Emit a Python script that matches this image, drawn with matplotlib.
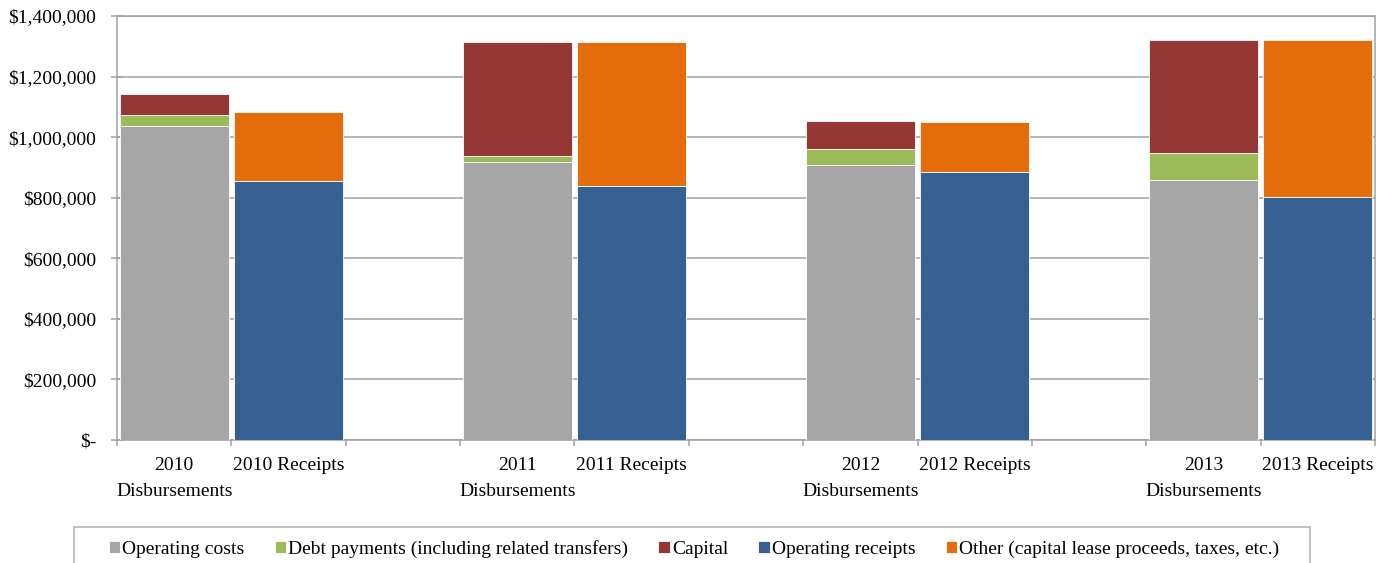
import matplotlib
matplotlib.use('Agg')
import matplotlib.pyplot as plt
from matplotlib.patches import Rectangle
from matplotlib.ticker import FuncFormatter
import numpy as np

# data (USD)
years = ['2010', '2011', '2012', '2013']
operating_costs = [1036000, 917000, 908000, 860000]
debt_payments = [36000, 21000, 52000, 88000]
capital = [72000, 376000, 93000, 372000]
operating_receipts = [856000, 840000, 885000, 803000]
other = [227000, 474000, 166000, 517000]

series_names = ['Operating costs', 'Debt payments (including related transfers)', 'Capital',
                'Operating receipts', 'Other (capital lease proceeds, taxes, etc.)']
colors = ['#a6a6a6', '#9bbb59', '#953735', '#376092', '#e46c0a']

plt.rcParams.update({
    'font.family': ['Liberation Serif', 'DejaVu Serif'],
    'font.size': 14,
})

fig = plt.figure(figsize=(13.9, 5.63), dpi=100)
ax = fig.add_axes([117 / 1390, 123 / 563, 1258 / 1390, 424 / 563])

# each year: disbursement slot, receipt slot, empty slot
x_disb = np.arange(len(years)) * 3
x_rec = x_disb + 1
w = 0.95
edge = dict(edgecolor='white', linewidth=0.6, zorder=3)

ax.bar(x_disb, operating_costs, w, color=colors[0], label=series_names[0], **edge)
ax.bar(x_disb, debt_payments, w, bottom=operating_costs, color=colors[1], label=series_names[1], **edge)
bottom_cap = np.array(operating_costs) + np.array(debt_payments)
ax.bar(x_disb, capital, w, bottom=bottom_cap, color=colors[2], label=series_names[2], **edge)
ax.bar(x_rec, operating_receipts, w, color=colors[3], label=series_names[3], **edge)
ax.bar(x_rec, other, w, bottom=operating_receipts, color=colors[4], label=series_names[4], **edge)

ax.set_xlim(-0.5, 10.5)
ax.set_ylim(0, 1400000)
ax.set_yticks(np.arange(0, 1400001, 200000))
ax.yaxis.set_major_formatter(FuncFormatter(lambda v, p: '$-' if v == 0 else '${:,.0f}'.format(v)))
ax.grid(True, axis='y', color='#a0a0a0', linewidth=1.1, zorder=0)
ax.set_axisbelow(True)

grey = '#a0a0a0'
for s in ax.spines.values():
    s.set_color(grey)
    s.set_linewidth(1.1)

# category boundaries as tick marks, labels in the middle of slots
ax.set_xticks(np.arange(-0.5, 11, 1))
ax.set_xticklabels([])
ax.tick_params(axis='x', which='major', direction='out', length=4, width=1.1, color=grey)
labels = []
for y in years:
    labels += [y + '\nDisbursements', y + ' Receipts']
ax.set_xticks(np.sort(np.concatenate([x_disb, x_rec])), minor=True)
ax.set_xticklabels(labels, minor=True)
ax.tick_params(axis='x', which='minor', length=0, pad=12, labelsize=14)
for lab in ax.get_xticklabels(minor=True):
    lab.set_linespacing(1.7)
ax.tick_params(axis='y', direction='inout', length=8, width=1.1, color=grey, pad=11, labelsize=14)

# legend box below the plot (cut off at the bottom like the original)
fig.patches.append(Rectangle((74 / 1390, -0.05), (1310 - 74) / 1390, 0.05 + 36 / 563,
                             transform=fig.transFigure, fill=False, edgecolor='#b0b0b0',
                             linewidth=1.1))
fig.legend(loc='center', bbox_to_anchor=(694 / 1390, 14 / 563), ncol=5, frameon=False,
           fontsize=14, handlelength=0.6, handleheight=0.6, handletextpad=0.1,
           columnspacing=1.55, borderpad=0)

fig.savefig('out.png', dpi=100)
